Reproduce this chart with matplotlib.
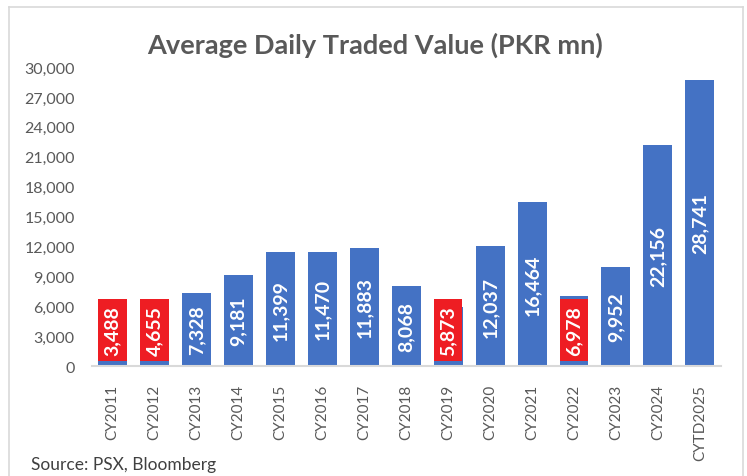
import matplotlib
matplotlib.use("Agg")
import matplotlib.pyplot as plt
from matplotlib.lines import Line2D

plt.rcParams['font.family'] = ['Lato', 'DejaVu Sans']

years = ['CY2011', 'CY2012', 'CY2013', 'CY2014', 'CY2015', 'CY2016', 'CY2017',
         'CY2018', 'CY2019', 'CY2020', 'CY2021', 'CY2022', 'CY2023', 'CY2024',
         'CYTD2025']
values = [3488, 4655, 7328, 9181, 11399, 11470, 11883, 8068, 5873, 12037,
          16464, 6978, 9952, 22156, 28741]
highlight = ['CY2011', 'CY2012', 'CY2019', 'CY2022']
yticks = list(range(0, 30001, 3000))

blue = '#4472C4'
red = '#EE1D23'
grey = '#595959'

fig = plt.figure(figsize=(7.47, 4.77), dpi=100)
ax = fig.add_axes([0.1225, 0.2306, 0.8425, 0.6268])

x = list(range(len(years)))
ax.bar(x, values, width=0.69, color=blue, zorder=2)

for i, (yr, v) in enumerate(zip(years, values)):
    if yr in highlight:
        # red label box sits at fixed height near the baseline
        ax.text(i, 3610, f'{v:,}', rotation=90, ha='center', va='center',
                color='white', fontsize=14, fontweight='bold', zorder=3,
                bbox=dict(boxstyle='square,pad=0.3', fc=red, ec='none'))
    else:
        ax.text(i, v / 2, f'{v:,}', rotation=90, ha='center', va='center',
                color='white', fontsize=14, fontweight='bold', zorder=3)

ax.set_xlim(-0.5, len(years) - 0.5)
ax.set_ylim(0, 30000)
ax.set_yticks(yticks)
ax.set_yticklabels([f'{t:,}' for t in yticks], color=grey, fontsize=11.5)
ax.set_xticks(x)
ax.set_xticklabels(years, rotation=90, color=grey, fontsize=11)
ax.tick_params(axis='both', length=0)
ax.tick_params(axis='y', pad=12)
ax.tick_params(axis='x', pad=13)

for s in ['top', 'right', 'left']:
    ax.spines[s].set_visible(False)
ax.spines['bottom'].set_color('#D9D9D9')
ax.spines['bottom'].set_linewidth(1.5)

fig.text(0.502, 0.905, 'Average Daily Traded Value (PKR mn)', ha='center',
         va='center', fontsize=19.5, fontweight='bold', color=grey)
fig.text(0.042, 0.025, 'Source: PSX, Bloomberg', ha='left', va='center',
         fontsize=12.5, color='#404040')

# chart frame
W, H = 747, 477
for xs, ys in [([9, 743], [8, 8]), ([9, 9], [8, 490]),
               ([743, 743], [8, 490])]:
    fig.add_artist(Line2D([a / W for a in xs], [1 - b / H for b in ys],
                          color='#D9D9D9', lw=1.2))

fig.savefig('out.png', dpi=100)
